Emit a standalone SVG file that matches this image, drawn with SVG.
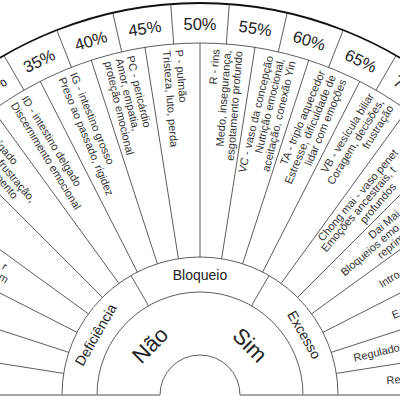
<svg xmlns="http://www.w3.org/2000/svg" width="400" height="400" viewBox="0 0 400 400">
<style>
.ln{stroke:#333;stroke-width:0.8;fill:none}
.outer{stroke:#111;stroke-width:1.8;fill:none}
.base{stroke:#888;stroke-width:1.6;fill:none}
text{font-family:"Liberation Sans",Arial,sans-serif;fill:#222}
.pct{font-size:16.5px;text-anchor:middle}
.lbl{font-size:11px;fill:#333}
.r{text-anchor:end}
.ring{font-size:14px;text-anchor:middle}
.big{font-size:22px;text-anchor:middle}
</style>
<rect width="400" height="400" fill="#fff"/>
<g id="connectors">
<path class="outer" d="M -192 395 A 392 392 0 0 1 592 395"/>
<path class="ln" d="M -152 395 A 352 352 0 0 1 552 395"/>
<path class="ln" d="M 62 395 A 138 138 0 0 1 338 395"/>
<path class="ln" d="M 97 395 A 103 103 0 0 1 303 395"/>
<path class="ln" d="M 160 395 A 40 40 0 0 1 240 395"/>
<path class="base" d="M -192 395 H 160 M 240 395 H 592"/>
<path class="ln" d="M 226.30 43.99 L 229.29 4.10 M 173.70 43.99 L 170.71 4.10 M 278.33 51.82 L 287.23 12.83 M 121.67 51.82 L 112.77 12.83 M 328.60 67.33 L 343.21 30.10 M 71.40 67.33 L 56.79 30.10 M 376 90.16 L 396 55.52 M 24 90.16 L 4 55.52 M 419.47 119.80 L 444.41 88.52 M -19.47 119.80 L -44.41 88.52"/>
<path class="ln" d="M 200 257 L 200 43 M 221.59 258.70 L 255.06 47.33 M 178.41 258.70 L 144.94 47.33 M 242.64 263.75 L 308.78 60.23 M 157.36 263.75 L 91.22 60.23 M 262.65 272.04 L 359.80 81.36 M 137.35 272.04 L 40.20 81.36 M 281.11 283.36 L 406.90 110.22 M 118.89 283.36 L -6.90 110.22 M 297.58 297.42 L 448.90 146.10 M 102.42 297.42 L -48.90 146.10 M 311.64 313.89 L 484.78 188.10 M 88.36 313.89 L -84.78 188.10 M 322.96 332.35 L 513.64 235.20 M 77.04 332.35 L -113.64 235.20 M 331.25 352.36 L 534.77 286.22 M 68.75 352.36 L -134.77 286.22 M 336.30 373.41 L 547.67 339.94 M 63.70 373.41 L -147.67 339.94"/>
<path class="ln" d="M 251.5 305.80 L 269 275.49 M 148.5 305.80 L 131 275.49"/>
</g>
<g transform="translate(200,395)">
<g id="percent">
<text class="pct" transform="rotate(-34.286)" y="-365">30%</text>
<text class="pct" transform="rotate(-25.714)" y="-365">35%</text>
<text class="pct" transform="rotate(-17.143)" y="-365">40%</text>
<text class="pct" transform="rotate(-8.571)" y="-365">45%</text>
<text class="pct" y="-365">50%</text>
<text class="pct" transform="rotate(8.571)" y="-365">55%</text>
<text class="pct" transform="rotate(17.143)" y="-365">60%</text>
<text class="pct" transform="rotate(25.714)" y="-365">65%</text>
<text class="pct" transform="rotate(34.286)" y="-365">70%</text>
</g>
<g id="ring">
<text class="ring" transform="rotate(-60)" y="-115.5">Deficiência</text>
<text class="ring" y="-115.5">Bloqueio</text>
<text class="ring" transform="rotate(60)" y="-115.5">Excesso</text>
<text class="big" transform="rotate(-45)" y="-63">Não</text>
<text class="big" transform="rotate(45)" y="-63">Sim</text>
</g>
<g id="node-P"><text class="lbl" transform="rotate(85.5)"><tspan x="-346" y="-2.4">P - pulmão</tspan><tspan x="-346" y="10.1">Tristeza, luto, perda</tspan></text></g>
<g id="node-PC"><text class="lbl" transform="rotate(76.5)"><tspan x="-346" y="-7.6">PC - pericárdio</tspan><tspan x="-346" y="3.9">Amor, empatia,</tspan><tspan x="-346" y="15.4">proteção emocional</tspan></text></g>
<g id="node-IG"><text class="lbl" transform="rotate(67.5)"><tspan x="-346" y="-2.4">IG - intestino grosso</tspan><tspan x="-346" y="10.1">Preso ao passado, rigidez</tspan></text></g>
<g id="node-ID"><text class="lbl" transform="rotate(58.5)"><tspan x="-346" y="-2.4">ID - intestino delgado</tspan><tspan x="-346" y="10.1">Discernimento emocional</tspan></text></g>
<g id="node-F"><text class="lbl r" transform="rotate(49.5)"><tspan x="-296" y="-6.8">ígado</tspan><tspan x="-256" y="4.2">frustração,</tspan><tspan x="-270" y="15.2">mento</tspan></text></g>
<g id="node-L7"><text class="lbl r" transform="rotate(31.5)"><tspan x="-232" y="-4">r</tspan><tspan x="-224" y="6.8">em</tspan></text></g>
<g id="node-R"><text class="lbl r" transform="rotate(-85.5)"><tspan x="346" y="-7.6">R - rins</tspan><tspan x="346" y="3.9">Medo, insegurança,</tspan><tspan x="346" y="15.4">esgotamento profundo</tspan></text></g>
<g id="node-VC"><text class="lbl r" transform="rotate(-76.5)"><tspan x="346" y="-7.6">VC - vaso da concepção</tspan><tspan x="346" y="3.9">Nutrição emocional,</tspan><tspan x="346" y="15.4">aceitação, conexão Yin</tspan></text></g>
<g id="node-TA"><text class="lbl r" transform="rotate(-67.5)"><tspan x="346" y="-7.6">TA - triplo aquecedor</tspan><tspan x="346" y="3.9">Estresse, dificuldade de</tspan><tspan x="346" y="15.4">lidar com emoções</tspan></text></g>
<g id="node-VB"><text class="lbl r" transform="rotate(-58.5)"><tspan x="346" y="-7.6">VB - vesícula biliar</tspan><tspan x="346" y="3.9">Coragem, decisões,</tspan><tspan x="346" y="15.4">frustração</tspan></text></g>
<g id="node-CM"><text class="lbl" transform="rotate(-49.5)"><tspan x="196" y="-6">Chong mai - vaso penet</tspan><tspan x="190" y="3.6">Emoções ancestrais, t</tspan><tspan x="237" y="14.5">profundos</tspan></text></g>
<g id="node-DM"><text class="lbl" transform="rotate(-40.5)"><tspan x="232" y="-6.5">Dai Mai -</tspan><tspan x="187" y="3.8">Bloqueios emo</tspan><tspan x="226" y="14.5">reprim</tspan></text></g>
<g id="node-R7"><text class="lbl" transform="rotate(-31.5)" x="211" y="3.8">Intro</text></g>
<g id="node-R8"><text class="lbl" transform="rotate(-22.5)" x="208" y="3.8">E</text></g>
<g id="node-R9"><text class="lbl" transform="rotate(-13.5)" x="158" y="3.8">Regulado</text></g>
<g id="node-R10"><text class="lbl" transform="rotate(-4.5)" x="187" y="3.8">Re</text></g>
</g>
</svg>
